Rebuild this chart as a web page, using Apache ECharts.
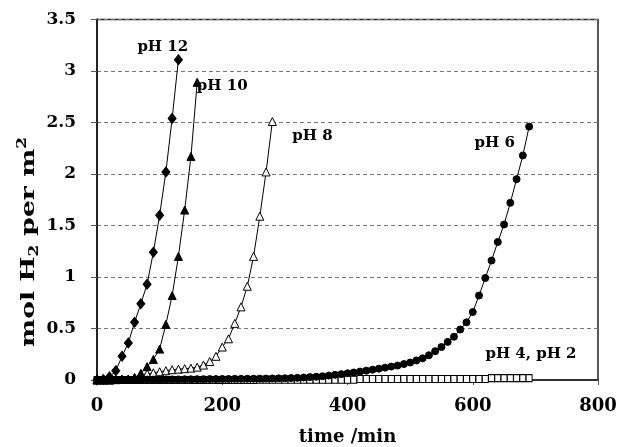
<!DOCTYPE html>
<html>
<head>
<meta charset="utf-8">
<script src="https://cdn.jsdelivr.net/npm/echarts@6/dist/echarts.min.js"></script>
<style>html,body{margin:0;padding:0;background:#fff;}#c{width:620px;height:447px;}</style>
</head>
<body>
<div id="c"></div>
<script>
// ---- data (time in min, mol H2 per m2) ----
var xTicks = [0, 200, 400, 600, 800];
var yTicks = [0, 0.5, 1, 1.5, 2, 2.5, 3, 3.5];

var tPH12 = [0,10,20,30,40,50,60,70,80,90,100,110,120,130];
var vPH12 = [0,0.005,0.03,0.09,0.23,0.36,0.56,0.74,0.93,1.24,1.60,2.02,2.54,3.11];

var tPH10 = [0,10,20,30,40,50,60,70,80,90,100,110,120,130,140,150,160];
var vPH10 = [0,0,0,0.003,0.005,0.01,0.025,0.065,0.13,0.20,0.30,0.54,0.82,1.20,1.65,2.17,2.89];

var tPH8 = [0,10,20,30,40,50,60,70,80,90,100,110,120,130,140,150,160,170,180,190,200,210,220,230,240,250,260,270,280];
var vPH8 = [0,0,0,0.005,0.01,0.01,0.02,0.05,0.06,0.07,0.08,0.09,0.10,0.105,0.11,0.115,0.125,0.145,0.18,0.23,0.32,0.40,0.55,0.71,0.91,1.20,1.59,2.02,2.51];

var tPH6 = [0,10,20,30,40,50,60,70,80,90,100,110,120,130,140,150,160,170,180,190,200,210,220,230,240,250,260,270,280,290,300,310,320,330,340,350,360,370,380,390,400,410,420,430,440,450,460,470,480,490,500,510,520,530,540,550,560,570,580,590,600,610,620,630,640,650,660,670,680,690];
var vPH6 = [0,0,0.001,0.001,0.002,0.002,0.003,0.003,0.004,0.004,0.005,0.005,0.006,0.006,0.007,0.007,0.008,0.008,0.009,0.009,0.010,0.010,0.011,0.011,0.012,0.012,0.013,0.014,0.015,0.016,0.017,0.019,0.021,0.024,0.028,0.032,0.037,0.043,0.050,0.057,0.065,0.073,0.082,0.091,0.100,0.110,0.120,0.130,0.140,0.155,0.170,0.190,0.210,0.240,0.280,0.320,0.370,0.420,0.490,0.560,0.660,0.820,0.990,1.160,1.340,1.510,1.720,1.950,2.180,2.460];

var tPH4 = [0,10,20,30,40,50,60,70,80,90,100,110,120,130,140,150,160,170,180,190,200,210,220,230,240,250,260,270,280,290,300,310,320,330,340,350,360,370,380,390,400,410,420,430,440,450,460,470,480,490,500,510,520,530,540,550,560,570,580,590,600,610,620,630,640,650,660,670,680,690];
var vPH4 = [0,0,0,0,0,0,0,0,0,0,0,0,0,0,0,0,0,0,0,0,0,0,0,0,0,0,0.003,0.003,0.003,0.003,0.003,0.003,0.003,0.003,0.003,0.003,0.003,0.003,0.003,0.003,0.003,0.003,0.009,0.009,0.009,0.009,0.009,0.009,0.009,0.009,0.009,0.009,0.009,0.009,0.009,0.009,0.009,0.009,0.009,0.009,0.009,0.009,0.009,0.018,0.018,0.018,0.018,0.018,0.018,0.018];

var labels = ['pH 12', 'pH 10', 'pH 8', 'pH 6', 'pH 4, pH 2'];
var labelAt = [[105, 3.23], [200, 2.85], [344, 2.37], [635, 2.30], [693, 0.25]];

function pairs(t, v) { return t.map(function (x, i) { return [x, v[i]]; }); }

var FONT = 'DejaVu Serif';
var chart = echarts.init(document.getElementById('c'), null, {renderer: 'canvas'});

function ser(name, t, v, symbol, size, fill, z) {
  return {
    name: name, type: 'line', data: pairs(t, v), clip: false, z: z,
    symbol: symbol, symbolSize: size, showSymbol: true,
    lineStyle: {color: '#000', width: 1},
    itemStyle: {color: fill, borderColor: '#000', borderWidth: 1},
    emphasis: {disabled: true}, animation: false
  };
}

var option = {
  animation: false,
  grid: {left: 97, right: 22, top: 19.5, bottom: 67, show: true, borderColor: '#222', borderWidth: 1.5,
    backgroundColor: 'transparent', containLabel: false, outerBoundsMode: 'none'},
  xAxis: {
    type: 'value', min: xTicks[0], max: xTicks[xTicks.length - 1], interval: 200,
    axisLine: {show: true, lineStyle: {color: '#222', width: 1.5}},
    axisTick: {show: true, inside: false, length: 5, lineStyle: {color: '#555'}},
    axisLabel: {color: '#000', fontFamily: FONT, fontWeight: 'bold', fontSize: 18, margin: 17},
    splitLine: {show: false},
    name: 'time /min', nameLocation: 'middle', nameGap: 48,
    nameTextStyle: {color: '#000', fontFamily: FONT, fontWeight: 'bold', fontSize: 18}
  },
  yAxis: {
    type: 'value', min: yTicks[0], max: yTicks[yTicks.length - 1], interval: 0.5,
    axisLine: {show: true, lineStyle: {color: '#222', width: 2}},
    axisTick: {show: true, inside: false, length: 6, lineStyle: {color: '#555'}},
    axisLabel: {color: '#000', fontFamily: FONT, fontWeight: 'bold', fontSize: 17, margin: 21},
    splitLine: {show: true, lineStyle: {color: '#777', type: [4, 3], width: 1}}
  },
  graphic: [
    {type: 'text', x: 29, y: 242, rotation: Math.PI / 2, scaleX: 1.4, z: 10,
      style: {
        text: '{a|mol H}{s|2}{a| per m}{p|2}',
        align: 'center', verticalAlign: 'middle',
        rich: {
          a: {fontFamily: FONT, fontWeight: 'bold', fontSize: 19, fill: '#000', lineHeight: 24, verticalAlign: 'middle'},
          s: {fontFamily: FONT, fontWeight: 'bold', fontSize: 12, fill: '#000', lineHeight: 24, verticalAlign: 'bottom'},
          p: {fontFamily: FONT, fontWeight: 'bold', fontSize: 12, fill: '#000', lineHeight: 24, verticalAlign: 'top'}
        }
      }
    }
  ],
  series: [
    ser('pH 4, pH 2', tPH4, vPH4, 'rect', [6, 7], '#fff', 2),
    ser('pH 8', tPH8, vPH8, 'triangle', 8, '#fff', 3),
    ser('pH 6', tPH6, vPH6, 'circle', 7, '#000', 4),
    ser('pH 10', tPH10, vPH10, 'triangle', 8, '#000', 5),
    ser('pH 12', tPH12, vPH12, 'diamond', [8, 10], '#000', 6)
  ]
};
chart.setOption(option);

// annotation labels placed at data coordinates
var g = option.graphic.slice();
labelAt.forEach(function (p, i) {
  var px = chart.convertToPixel({gridIndex: 0}, p);
  g.push({type: 'text', x: px[0], y: px[1], z: 10,
    style: {text: labels[i], fontFamily: FONT, fontWeight: 'bold', fontSize: 15, fill: '#000', align: 'center', verticalAlign: 'middle'}});
});
chart.setOption({graphic: g});
</script>
</body>
</html>
